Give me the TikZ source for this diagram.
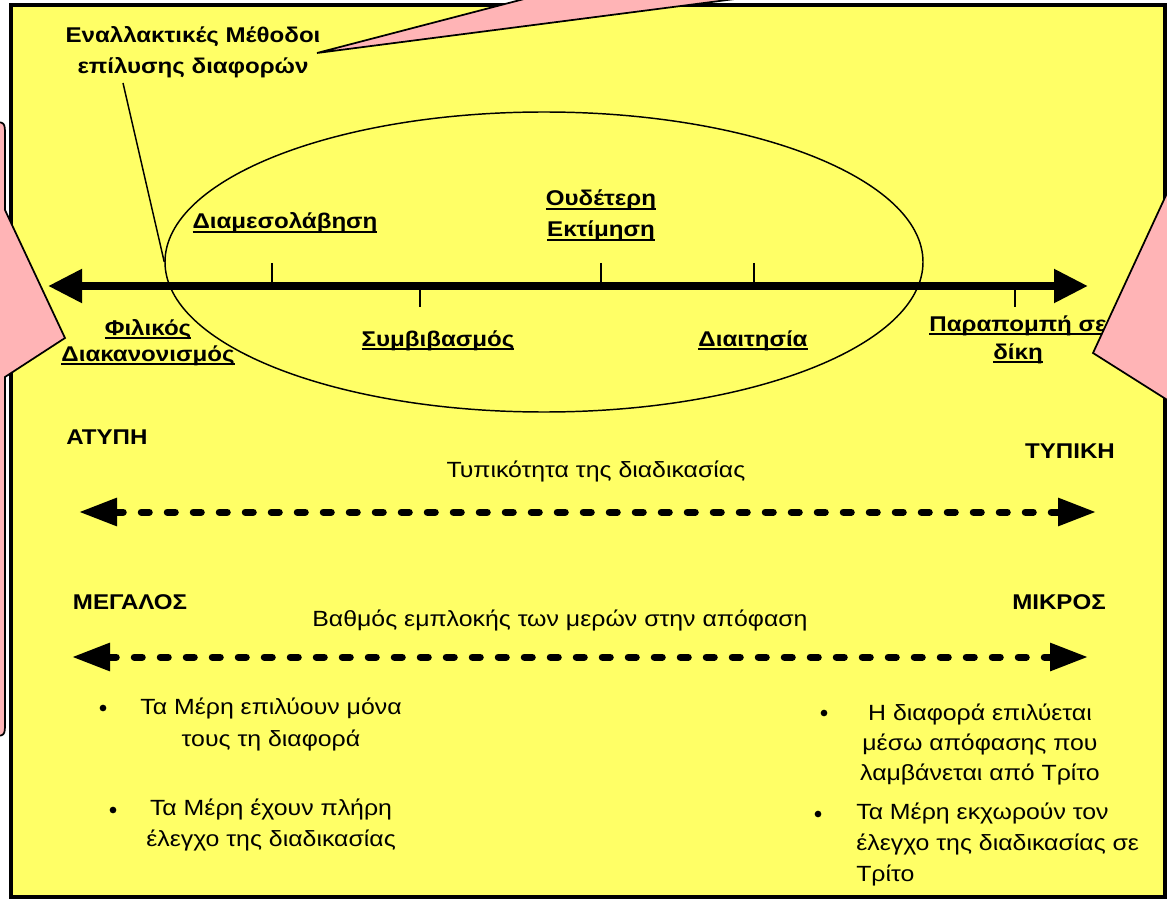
\documentclass[tikz,border=0pt]{standalone}
\usepackage{fontspec}
\setmainfont{Liberation Sans}[FakeStretch=1.13]
\usetikzlibrary{arrows.meta,shapes.geometric}
\definecolor{boxyellow}{RGB}{255,255,102}
\definecolor{calloutpink}{RGB}{255,180,182}
\newcommand\ulbl[1]{\leavevmode\vtop{\hbox{\raisebox{0pt}[\height][0pt]{#1}}\kern1.6pt\hrule height 1.1pt}}
\tikzset{
  frame/.style={line width=3pt, fill=boxyellow},
  thinline/.style={line width=1.1pt},
  tickline/.style={line width=1.1pt},
  mainarrow/.style={line width=6pt, {Triangle[length=25.5pt,width=24pt]}-{Triangle[length=25.5pt,width=24pt]}},
  dasharrow/.style={line width=5.25pt, line cap=round, dash pattern=on 6pt off 13.5pt,
     {Triangle[length=28.5pt,width=20pt]}-{Triangle[length=28.5pt,width=20pt]}},
  lbl/.style={font=\bfseries\fontsize{16pt}{21pt}\selectfont, align=center, anchor=base, inner sep=0pt},
  caps/.style={font=\bfseries\fontsize{16pt}{21pt}\selectfont, anchor=base, inner sep=0pt},
  txt/.style={font=\fontsize{16.5pt}{23pt}\selectfont, align=center, anchor=base, inner sep=0pt},
  bul/.style={circle, fill=black, inner sep=0pt, minimum size=5pt},
  callout/.style={fill=calloutpink, draw=black, line width=1.3pt, line join=miter},
}
\begin{document}
\begin{tikzpicture}[x=0.75pt,y=-0.75pt]
\useasboundingbox (0,0) rectangle (1167,902);
\fill[white] (0,0) rectangle (1167,902);
\draw[frame] (10.5,5.5) rectangle (1165,897);

% ellipse grouping the alternative methods
\node[draw, ellipse, thinline, minimum width=568.5pt, minimum height=225pt, inner sep=0pt] (ell) at (544,262) {};

% title and leader (multi-line nodes: base = last line)
\node[lbl, font=\bfseries\fontsize{16pt}{23.25pt}\selectfont] (title) at (193,74) {Εναλλακτικές Μέθοδοι\\επίλυσης διαφορών};
\coordinate (ldr) at (123,83);
\draw[thinline] (ldr) -- (ell.west);

% main axis
\coordinate (axL) at (48,286);
\coordinate (axR) at (1088,286);
\draw[mainarrow] (axL) -- (axR);
\foreach \x in {272,601,754} \draw[tickline] (\x,263) -- (\x,286);
\foreach \x in {420,1015} \draw[tickline] (\x,286) -- (\x,307);

% labels on the axis
\node[lbl] (med) at (285,229) {\ulbl{Διαμεσολάβηση}};
\node[lbl, font=\bfseries\fontsize{16pt}{23.25pt}\selectfont] (neu) at (601,237) {\ulbl{Ουδέτερη}\\\ulbl{Εκτίμηση}};
\node[lbl, font=\bfseries\fontsize{16pt}{19.5pt}\selectfont] (fil) at (148,361) {\ulbl{Φιλικός}\\\ulbl{Διακανονισμός}};
\node[lbl] (sym) at (438,346) {\ulbl{Συμβιβασμός}};
\node[lbl] (dia) at (753,346) {\ulbl{Διαιτησία}};
\node[lbl, font=\bfseries\fontsize{16pt}{21pt}\selectfont] (par) at (1018,359) {\ulbl{Παραπομπή σε}\\\ulbl{δίκη}};

% formality axis
\node[caps] (aty) at (107,444) {ΑΤΥΠΗ};
\node[caps] (typ) at (1070,458) {ΤΥΠΙΚΗ};
\node[txt] (form) at (596,477) {Τυπικότητα της διαδικασίας};
\coordinate (f1) at (79,512);
\coordinate (f2) at (1096,512);
\draw[dasharrow] (f1) -- (f2);

% involvement axis
\node[caps] (meg) at (130,609) {ΜΕΓΑΛΟΣ};
\node[caps] (mik) at (1059,609) {ΜΙΚΡΟΣ};
\node[txt] (inv) at (560,626) {Βαθμός εμπλοκής των μερών στην απόφαση};
\coordinate (g1) at (72,657);
\coordinate (g2) at (1088,657);
\draw[dasharrow] (g1) -- (g2);

% bullet points
\node[bul] (b1) at (103,708) {};
\node[txt, font=\fontsize{16.5pt}{24pt}\selectfont] (t1) at (271,746) {Τα Μέρη επιλύουν μόνα\\τους τη διαφορά};
\node[bul] (b2) at (113,810) {};
\node[txt] (t2) at (271,846) {Τα Μέρη έχουν πλήρη\\έλεγχο της διαδικασίας};
\node[bul] (b3) at (824,713) {};
\node[txt, font=\fontsize{16.5pt}{22.5pt}\selectfont] (t3) at (980,780) {Η διαφορά επιλύεται\\μέσω απόφασης που\\λαμβάνεται από Τρίτο};
\node[bul] (b4) at (818,814) {};
\node[txt, align=left, anchor=base west, font=\fontsize{16.5pt}{22.9pt}\selectfont] (t4) at (856,881) {Τα Μέρη εκχωρούν τον\\έλεγχο της διαδικασίας σε\\Τρίτο};

% callouts (cut by the picture edge)
\begin{scope}
\clip (0,0) rectangle (1167,902);
\path[callout] (-60,122) -- (-9,122) .. controls (5,122) .. (5,136) -- (5,210) -- (65,338) -- (5,377)
   -- (5,722) .. controls (5,736) .. (-9,736) -- (-60,736) -- cycle;
\path[callout] (1093,353) -- (1180,165) -- (1250,165) -- (1250,408) -- (1180,408) -- cycle;
\path[callout] (317,53) -- (597,-20) -- (597,-60) -- (882,-60) -- (882,-20) -- cycle;
\end{scope}
\end{tikzpicture}
\end{document}
